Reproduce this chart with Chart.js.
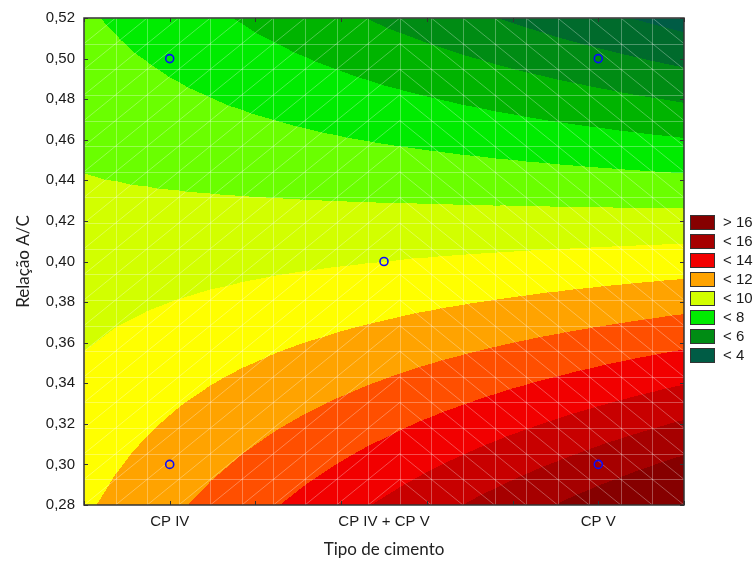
<!DOCTYPE html>
<html>
<head>
<meta charset="utf-8">
<script src="https://cdn.jsdelivr.net/npm/chart.js@4.4.1/dist/chart.umd.min.js"></script>
<style>
html, body { margin: 0; padding: 0; background: #fff; }
</style>
</head>
<body>
<canvas id="grafico" width="755" height="565"></canvas>
<script>
// tipos de cimento no eixo x (posicoes 0, 1, 2)
var cimento = ['CP IV', 'CP IV + CP V', 'CP V'];

// pontos do planejamento: tipo de cimento, relacao A/C e resposta medida
var pontoTipo = [0, 0, 1, 2, 2];
var pontoAC = [0.30, 0.50, 0.40, 0.30, 0.50];
var pontoResp = [11.44, 7.84, 10.0, 15.46, 5.26];

// ticks do eixo y
var ticksAC = [0.28, 0.30, 0.32, 0.34, 0.36, 0.38, 0.40, 0.42, 0.44, 0.46, 0.48, 0.50, 0.52];

// niveis das curvas e cor de cada faixa (abaixo do 1o nivel ... acima do ultimo)
var niveis = [4, 5, 6, 7, 8, 9, 10, 11, 12, 13, 14, 15, 16];
var coresFaixa = ['#005c45', '#006b2c', '#008c14', '#00b400', '#00ec00', '#6aff00', '#d2ff00',
                  '#ffff00', '#ffa300', '#ff4f00', '#f20000', '#c80000', '#a60000', '#860000'];

// legenda: so os niveis pares
var legendaTxt = ['> 16', '< 16', '< 14', '< 12', '< 10', '< 8', '< 6', '< 4'];

var fonteEixo = 'Liberation Sans, Arial, sans-serif';

// codificacao dos fatores em -1..1
var xCentro = (cimento.length - 1) / 2, xMeio = (cimento.length - 1) / 2;
var acMin = Math.min.apply(null, pontoAC), acMax = Math.max.apply(null, pontoAC);
var yCentro = (acMin + acMax) / 2, yMeio = (acMax - acMin) / 2;
function codX(t) { return (t - xCentro) / xMeio; }
function codY(a) { return (a - yCentro) / yMeio; }

// ajuste z = b0 + b1 x + b2 y + b12 xy
// o planejamento e ortogonal, entao cada coeficiente sai direto de soma(c*z)/soma(c*c)
function ajustar() {
	var xc = pontoTipo.map(codX), yc = pontoAC.map(codY);
	var colunas = [pontoTipo.map(function() { return 1; }), xc, yc, xc.map(function(v, k) { return v * yc[k]; })];
	return colunas.map(function(c) {
		var num = 0, den = 0;
		c.forEach(function(v, k) { num += v * pontoResp[k]; den += v * v; });
		return num / den;
	});
}
var coef = ajustar();

function superficie(t, a) {
	var x = codX(t), y = codY(a);
	return coef[0] + coef[1] * x + coef[2] * y + coef[3] * x * y;
}

function faixa(z) {
	var b = 0;
	while (b < niveis.length && z >= niveis[b]) b++;
	return b;
}

function hexRgb(h) {
	return [parseInt(h.substr(1, 2), 16), parseInt(h.substr(3, 2), 16), parseInt(h.substr(5, 2), 16)];
}

var NOS = 20; // nos da malha em cada direcao

// preenche as faixas interpolando em triangulos da malha e desenha a malha por cima
var pluginSuperficie = {
	id: 'superficie',
	beforeDatasetsDraw: function(chart) {
		var ctx = chart.ctx, a = chart.chartArea, sx = chart.scales.x, sy = chart.scales.y;
		var w = Math.round(a.right - a.left), h = Math.round(a.bottom - a.top);
		var x0 = sx.min, x1 = sx.max, y0 = sy.min, y1 = sy.max;
		var Z = [];
		for (var i = 0; i < NOS; i++) {
			Z[i] = [];
			for (var j = 0; j < NOS; j++) {
				Z[i][j] = superficie(x0 + i * (x1 - x0) / (NOS - 1), y0 + j * (y1 - y0) / (NOS - 1));
			}
		}
		var rgb = coresFaixa.map(hexRgb);
		var cv = document.createElement('canvas');
		cv.width = w; cv.height = h;
		var cx = cv.getContext('2d');
		var img = cx.createImageData(w, h);
		for (var py = 0; py < h; py++) {
			var fy = (sy.getValueForPixel(a.top + py + 0.5) - y0) / (y1 - y0) * (NOS - 1);
			var jj = Math.max(0, Math.min(Math.floor(fy), NOS - 2)), v = fy - jj;
			for (var px = 0; px < w; px++) {
				var fx = (sx.getValueForPixel(a.left + px + 0.5) - x0) / (x1 - x0) * (NOS - 1);
				var ii = Math.max(0, Math.min(Math.floor(fx), NOS - 2)), u = fx - ii;
				var z00 = Z[ii][jj], z10 = Z[ii + 1][jj], z01 = Z[ii][jj + 1], z11 = Z[ii + 1][jj + 1];
				var z;
				if (ii < NOS / 2) {
					// diagonal "/"
					if (v <= u) z = z00 + u * (z10 - z00) + v * (z11 - z10);
					else z = z00 + v * (z01 - z00) + u * (z11 - z01);
				} else {
					// diagonal "\"
					if (u + v <= 1) z = z00 + u * (z10 - z00) + v * (z01 - z00);
					else z = z11 + (1 - u) * (z01 - z11) + (1 - v) * (z10 - z11);
				}
				var c = rgb[faixa(z)], k = (py * w + px) * 4;
				img.data[k] = c[0]; img.data[k + 1] = c[1]; img.data[k + 2] = c[2]; img.data[k + 3] = 255;
			}
		}
		cx.putImageData(img, 0, 0);
		ctx.save();
		ctx.drawImage(cv, a.left, a.top);

		// malha
		var xs = [], ys = [];
		for (var n = 0; n < NOS; n++) {
			xs.push(sx.getPixelForValue(x0 + n * (x1 - x0) / (NOS - 1)));
			ys.push(sy.getPixelForValue(y0 + n * (y1 - y0) / (NOS - 1)));
		}
		ctx.strokeStyle = 'rgba(255,255,255,0.3)';
		ctx.lineWidth = 1;
		ctx.beginPath();
		for (n = 0; n < NOS; n++) {
			ctx.moveTo(Math.round(xs[n]) + 0.5, a.top); ctx.lineTo(Math.round(xs[n]) + 0.5, a.bottom);
			ctx.moveTo(a.left, Math.round(ys[n]) + 0.5); ctx.lineTo(a.right, Math.round(ys[n]) + 0.5);
		}
		for (i = 0; i < NOS - 1; i++) {
			for (j = 0; j < NOS - 1; j++) {
				if (i < NOS / 2) { ctx.moveTo(xs[i], ys[j]); ctx.lineTo(xs[i + 1], ys[j + 1]); }
				else { ctx.moveTo(xs[i], ys[j + 1]); ctx.lineTo(xs[i + 1], ys[j]); }
			}
		}
		ctx.stroke();
		ctx.restore();
	},
	afterDraw: function(chart) {
		var ctx = chart.ctx, a = chart.chartArea, sx = chart.scales.x, sy = chart.scales.y;
		ctx.save();
		// moldura e ticks para dentro
		ctx.strokeStyle = '#333';
		ctx.lineWidth = 1;
		ctx.beginPath();
		ticksAC.forEach(function(t) {
			var y = Math.round(sy.getPixelForValue(t)) + 0.5;
			ctx.moveTo(a.left, y); ctx.lineTo(a.left + 4, y);
			ctx.moveTo(a.right - 4, y); ctx.lineTo(a.right, y);
		});
		for (var k = 0; sx.min + k * 0.4 <= sx.max + 1e-9; k++) {
			var x = Math.round(sx.getPixelForValue(sx.min + k * 0.4)) + 0.5;
			ctx.moveTo(x, a.top); ctx.lineTo(x, a.top + 4);
			ctx.moveTo(x, a.bottom - 4); ctx.lineTo(x, a.bottom);
		}
		ctx.stroke();
		ctx.lineWidth = 1.5;
		ctx.strokeRect(a.left, a.top, a.right - a.left, a.bottom - a.top);

		// legenda
		var lx = a.right + 6, ly = a.top + 197;
		ctx.font = '15px ' + fonteEixo;
		ctx.textBaseline = 'middle';
		ctx.textAlign = 'left';
		legendaTxt.forEach(function(txt, i) {
			var partes = txt.split(' ');
			var idx = niveis.indexOf(parseFloat(partes[1])) + (partes[0] === '>' ? 1 : 0);
			var y = ly + i * 19;
			ctx.fillStyle = coresFaixa[idx];
			ctx.fillRect(lx, y, 25, 15);
			ctx.lineWidth = 1;
			ctx.strokeStyle = '#333';
			ctx.strokeRect(lx + 0.5, y + 0.5, 24, 14);
			ctx.fillStyle = '#1a1a1a';
			ctx.fillText(txt, lx + 33, y + 8);
		});
		ctx.restore();
	}
};

new Chart(document.getElementById('grafico'), {
	type: 'scatter',
	data: {
		datasets: [{
			data: pontoTipo.map(function(t, k) { return { x: t, y: pontoAC[k] }; }),
			pointStyle: 'circle',
			radius: 4,
			borderWidth: 1.6,
			borderColor: '#0a0aff',
			backgroundColor: 'rgba(0,0,0,0)'
		}]
	},
	options: {
		responsive: false,
		animation: false,
		devicePixelRatio: 1,
		layout: { padding: { left: 0, right: 71, top: 17, bottom: 0 } },
		plugins: { legend: { display: false }, tooltip: { enabled: false } },
		scales: {
			x: {
				type: 'linear',
				min: -0.4,
				max: 2.4,
				afterBuildTicks: function(s) { s.ticks = cimento.map(function(c, i) { return { value: i }; }); },
				afterFit: function(s) { s.height = 60; },
				grid: { display: false, drawTicks: false },
				border: { display: false },
				ticks: {
					callback: function(v) { return cimento[v]; },
					font: { family: fonteEixo, size: 15 },
					color: '#1a1a1a',
					padding: 8,
					maxRotation: 0,
					autoSkip: false
				},
				title: {
					display: true,
					text: 'Tipo de cimento',
					font: { family: 'Lato', size: 17 },
					color: '#222',
					padding: { top: 0, bottom: 5 }
				}
			},
			y: {
				type: 'linear',
				min: 0.28,
				max: 0.52,
				afterBuildTicks: function(s) { s.ticks = ticksAC.map(function(v) { return { value: v }; }); },
				afterFit: function(s) { s.width = 84; },
				grid: { display: false, drawTicks: false },
				border: { display: false },
				ticks: {
					callback: function(v) { return v.toFixed(2).replace('.', ','); },
					font: { family: fonteEixo, size: 15 },
					color: '#1a1a1a',
					padding: 9
				},
				title: {
					display: true,
					text: 'Relação A/C',
					font: { family: 'Lato', size: 17 },
					color: '#222',
					padding: { top: 13, bottom: 0 }
				}
			}
		}
	},
	plugins: [pluginSuperficie]
});
</script>
</body>
</html>
